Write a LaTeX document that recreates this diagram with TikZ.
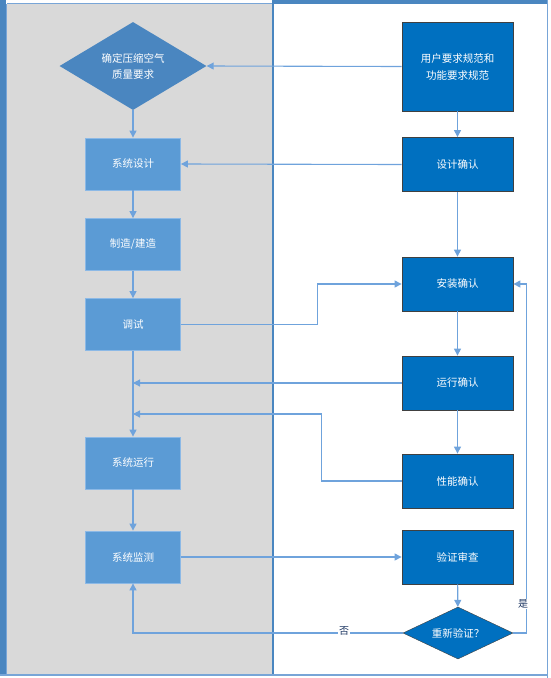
\documentclass[tikz,border=0pt]{standalone}
\usepackage{fontspec}
\setmainfont{Noto Sans CJK SC}
\usetikzlibrary{shapes.geometric,arrows.meta}
\definecolor{frameblue}{RGB}{74,134,192}
\definecolor{laneline}{RGB}{120,165,215}
\definecolor{lanegray}{RGB}{217,217,217}
\definecolor{lfill}{RGB}{91,155,213}
\definecolor{lline}{RGB}{140,185,230}
\definecolor{rfill}{RGB}{0,112,192}
\definecolor{flowblue}{RGB}{111,163,220}
\definecolor{navy}{RGB}{31,56,100}

\begin{document}
\begin{tikzpicture}[x=1pt,y=-1pt,
    lbox/.style={draw=lline,fill=lfill,line width=0.8pt,minimum width=95pt,minimum height=52pt,
        text=white,font=\fontsize{10.5}{16}\selectfont,align=center},
    rbox/.style={draw=black!75,fill=rfill,line width=0.8pt,minimum width=111pt,minimum height=54pt,
        text=white,font=\fontsize{10.5}{17}\selectfont,align=center},
    flow/.style={draw=flowblue,line width=1.1pt,-{Triangle[length=7pt,width=7pt]}},
    answer/.style={fill=white,inner sep=1pt,text=navy,font=\fontsize{10}{12}\selectfont},]
        \useasboundingbox (0,0) rectangle (551,678);
        % swim lanes
        \fill[lanegray] (6,4) rectangle (272,675);
        \fill[frameblue] (0,0) rectangle (6,676);
        \fill[frameblue] (272,0) rectangle (547,4);
        \draw[laneline,line width=0.8pt] (7,3.5) -- (272,3.5);
        \draw[laneline,line width=0.8pt] (6.5,4) -- (6.5,676);
        \draw[frameblue,line width=1.6pt] (273,0) -- (273,676);
        \draw[laneline,line width=1.2pt] (547.5,0) -- (547.5,678);
        \draw[laneline,line width=1.4pt] (0,675) -- (547,675);

        % left lane
        \node[diamond,fill=frameblue,text=white,inner sep=1pt,aspect=1.67,minimum width=147pt,
            minimum height=88pt,font=\fontsize{10.5}{16}\selectfont,align=center] (quality) at (133,66) {确定压缩空气\\质量要求};
        \node[lbox] (design) at (133,164) {系统设计};
        \node[lbox] (build) at (133,244.5) {制造/建造};
        \node[lbox] (debug) at (133,324.5) {调试};
        \node[lbox] (run) at (133,463) {系统运行};
        \node[lbox] (monitor) at (133,557) {系统监测};

        % right lane
        \node[rbox,minimum height=89pt] (urs) at (457.5,66.5) {用户要求规范和\\功能要求规范};
        \foreach \n/\y/\t in {dq/164.5/设计确认,iq/284/安装确认,oq/383/运行确认,pq/481/性能确认,review/557/验证审查}
        \node[rbox] (\n) at (457.5,\y) {\t};
        \node[diamond,draw=black!75,fill=rfill,text=white,inner sep=1pt,aspect=2.1,minimum width=110pt,
            minimum height=52pt,font=\fontsize{10.5}{13}\selectfont] (again) at (458,633) {重新验证？};

        \coordinate (m1) at (133,383);
        \coordinate (m2) at (133,414);

        % connectors
        \draw[flow] (urs.west) -- (quality.east);
        \draw[flow] (quality) -- (design);
        \draw[flow] (urs) -- (dq);
        \draw[flow] (dq.west) -- (design.east);
        \draw[flow] (design) -- (build);
        \draw[flow] (build) -- (debug);
        \draw[flow] (dq) -- (iq);
        \draw[flow] (debug.east) -- ++(137,0) |- (iq.west);
        \draw[flow] (iq) -- (oq);
        \draw[flow] (debug) -- (run);
        \draw[flow] (oq.west) -- (m1);
        \draw[flow] (oq) -- (pq);
        \draw[flow] (pq.west) -- ++(-80,0) |- (m2);
        \draw[flow] (run) -- (monitor);
        \draw[flow] (monitor.east) -- (review.west);
        \draw[flow] (review) -- (again);
        \draw[flow] (again.east) -- ++(13,0) |- (iq.east);
        \draw[flow] (again.west) -| (monitor.south);
        \node[answer] (yes) at (523,604) {是};
        \node[answer] (no) at (344,631) {否};

%\draw[red] (0,0) grid[step=50] (551,678);
\end{tikzpicture}
\end{document}
